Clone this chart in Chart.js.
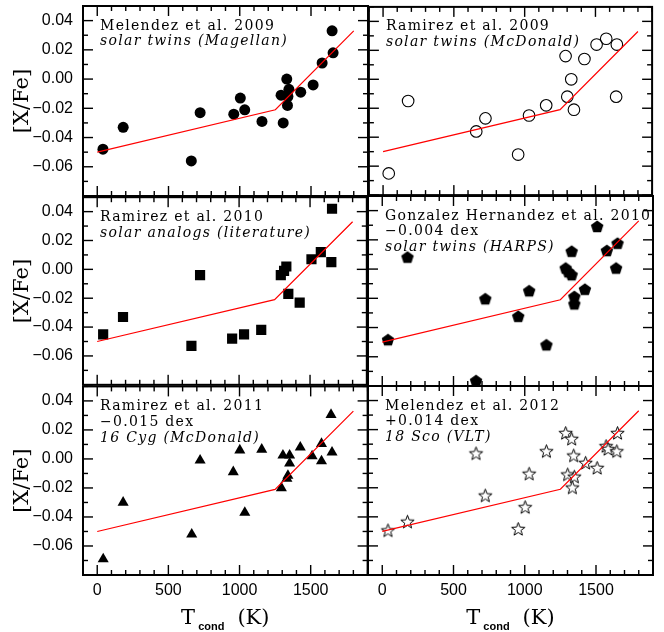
<!DOCTYPE html>
<html>
<head>
<meta charset="utf-8">
<script src="https://cdn.jsdelivr.net/npm/chart.js@4/dist/chart.umd.min.js"></script>
<style>
html, body { margin: 0; padding: 0; background: #fff; }
body { width: 664px; height: 632px; position: relative; overflow: hidden; }
canvas { position: absolute; }
</style>
</head>
<body>
<script>
// broken-line fit, same in every panel
const fitT = [0, 1250, 1800]
const fitY = [-0.050, -0.021, 0.033]

// axis ranges and ticks
const xMin = -100, xMax = 1900, xMinorStep = 100, xMajorStep = 500
const yMin = -0.08, yMax = 0.05, yMinorStep = 0.01
const yLabelled = [-0.06, -0.04, -0.02, 0.00, 0.02, 0.04]

// Melendez et al. 2009 (filled circles)
const mel09T = [40, 182, 660, 722, 958, 1004, 1035, 1156, 1290, 1305, 1330, 1345, 1335, 1338, 1428, 1515, 1578, 1648, 1655]
const mel09Y = [-0.048, -0.033, -0.056, -0.023, -0.024, -0.013, -0.021, -0.029, -0.011, -0.030, 0.000, -0.007, -0.018, -0.012, -0.009, -0.004, 0.011, 0.033, 0.018]

// Ramirez et al. 2009 (open circles)
const ram09T = [40, 177, 658, 723, 954, 1031, 1152, 1289, 1301, 1329, 1348, 1422, 1508, 1576, 1651, 1646]
const ram09Y = [-0.065, -0.015, -0.036, -0.027, -0.052, -0.025, -0.018, 0.016, -0.012, 0.000, -0.021, 0.014, 0.024, 0.028, 0.024, -0.012]

// Ramirez et al. 2010 (squares)
const ram10T = [42, 182, 664, 725, 951, 1035, 1156, 1294, 1317, 1333, 1347, 1427, 1510, 1576, 1650, 1655]
const ram10Y = [-0.045, -0.033, -0.053, -0.004, -0.048, -0.045, -0.042, -0.004, -0.001, 0.002, -0.017, -0.023, 0.007, 0.012, 0.005, 0.042]

// Gonzalez Hernandez et al. 2010 (pentagons)
const gh10T = [40, 177, 658, 723, 954, 1031, 1152, 1287, 1306, 1329, 1329, 1348, 1348, 1422, 1508, 1576, 1651, 1641]
const gh10Y = [-0.048, 0.0085, -0.076, -0.020, -0.032, -0.0145, -0.0515, 0.001, -0.0015, -0.0035, 0.0125, -0.0185, -0.0235, -0.0135, 0.0295, 0.013, 0.018, 0.001]

// Ramirez et al. 2011 (triangles)
const ram11T = [42, 182, 664, 723, 956, 1002, 1037, 1156, 1294, 1305, 1333, 1340, 1352, 1352, 1427, 1510, 1576, 1576, 1643, 1650]
const ram11Y = [-0.069, -0.030, -0.052, -0.001, -0.009, 0.006, -0.037, 0.0065, -0.020, 0.0025, -0.0135, -0.0115, 0.0025, -0.003, 0.008, 0.002, 0.0105, -0.0015, 0.0305, 0.0045]

// Melendez et al. 2012 (open stars)
const mel12T = [40, 177, 658, 723, 954, 1003, 1031, 1152, 1287, 1329, 1301, 1343, 1348, 1334, 1427, 1508, 1571, 1585, 1651, 1646]
const mel12Y = [-0.049, -0.043, 0.004, -0.025, -0.048, -0.033, -0.010, 0.0055, 0.018, 0.014, -0.0105, 0.0025, -0.012, -0.0195, -0.0025, -0.006, 0.009, 0.007, 0.018, 0.0055]


function pentagonImg(r) {
    const c = document.createElement('canvas')
    const s = Math.ceil(r * 2 + 2)
    c.width = c.height = s
    const g = c.getContext('2d')
    g.beginPath()
    for (let i = 0; i < 5; i++) {
        const ang = -Math.PI / 2 + i * 2 * Math.PI / 5
        g.lineTo(s / 2 + r * Math.cos(ang), s / 2 + 1 + r * Math.sin(ang))
    }
    g.closePath()
    g.fillStyle = '#000'
    g.fill()
    return c
}

function starImg(r) {
    const c = document.createElement('canvas')
    const s = Math.ceil(r * 2 + 3)
    c.width = c.height = s
    const g = c.getContext('2d')
    g.beginPath()
    for (let i = 0; i < 10; i++) {
        const ang = -Math.PI / 2 + i * Math.PI / 5
        const rr = i % 2 === 0 ? r : r * 0.42
        g.lineTo(s / 2 + rr * Math.cos(ang), s / 2 + 1 + rr * Math.sin(ang))
    }
    g.closePath()
    g.fillStyle = '#fff'
    g.fill()
    g.strokeStyle = '#000'
    g.lineWidth = 1
    g.stroke()
    return c
}

const pts = (T, Y) => T.map((t, i) => ({ x: t, y: Y[i] }))

const panels = [
    { col: 0, row: 0, T: mel09T, Y: mel09Y,
      marker: { pointStyle: 'circle', pointRadius: 5.5, backgroundColor: '#000', borderWidth: 0 },
      lines: ['Melendez et al. 2009', 'solar twins (Magellan)'], italic: [1] },
    { col: 1, row: 0, T: ram09T, Y: ram09Y,
      marker: { pointStyle: 'circle', pointRadius: 5.8, backgroundColor: 'rgba(0,0,0,0)', borderColor: '#000', borderWidth: 1.1 },
      lines: ['Ramirez et al. 2009', 'solar twins (McDonald)'], italic: [1] },
    { col: 0, row: 1, T: ram10T, Y: ram10Y,
      marker: { pointStyle: 'rect', pointRadius: 7.2, backgroundColor: '#000', borderWidth: 0 },
      lines: ['Ramirez et al. 2010', 'solar analogs (literature)'], italic: [1] },
    { col: 1, row: 1, T: gh10T, Y: gh10Y,
      marker: { pointStyle: pentagonImg(6.6) },
      lines: ['Gonzalez Hernandez et al. 2010', '\u22120.004 dex', 'solar twins (HARPS)'], italic: [2] },
    { col: 0, row: 2, T: ram11T, Y: ram11Y,
      marker: { pointStyle: 'triangle', pointRadius: 6.4, backgroundColor: '#000', borderWidth: 0 },
      lines: ['Ramirez et al. 2011', '\u22120.015 dex', '16 Cyg (McDonald)'], italic: [2] },
    { col: 1, row: 2, T: mel12T, Y: mel12Y,
      marker: { pointStyle: starImg(7) },
      lines: ['Melendez et al. 2012', '+0.014 dex', '18 Sco (VLT)'], italic: [2] },
]

// captions and the T_cond (K) title
const panelText = {
    id: 'panelText',
    afterDraw(chart, args, opts) {
        const { ctx, chartArea: area } = chart
        ctx.save()
        ctx.fillStyle = '#000'
        ctx.textAlign = 'left'
        ctx.textBaseline = 'alphabetic'
        ctx.letterSpacing = '1.3px'
        opts.lines.forEach((s, i) => {
            ctx.font = (opts.italic.includes(i) ? 'italic ' : '') + '14px "DejaVu Serif"'
            ctx.fillText(s, area.left + 17, area.top + 23.5 + i * 15.8)
        })
        ctx.letterSpacing = '0px'
        if (opts.xTitle) {
            const big = '21px "DejaVu Serif"', small = 'bold 11px "Liberation Sans"'
            ctx.font = big
            const wT = ctx.measureText('T').width
            const wK = ctx.measureText('(K)').width
            ctx.font = small
            const wc = ctx.measureText('cond').width
            const total = wT + 3 + wc + 13 + wK
            const x0 = (area.left + area.right) / 2 - total / 2
            const base = area.bottom + 49
            ctx.font = big
            ctx.fillText('T', x0, base)
            ctx.font = small
            ctx.fillText('cond', x0 + wT + 3, base + 6)
            ctx.font = big
            ctx.fillText('(K)', x0 + wT + 3 + wc + 13, base)
        }
        ctx.restore()
    }
}

function yTickLabel(v) {
    const k = Math.round(v * 100)
    if (!yLabelled.some(l => Math.round(l * 100) === k)) return ''
    if (k === 0) return '0.00'
    return (k < 0 ? '\u2212' : '') + Math.abs(k / 100).toFixed(2)
}

const made = []

panels.forEach(p => {
    const cLeft = p.col === 0 ? 0 : 362
    const cTop = p.row * 190
    const w = p.col === 0 ? 374 : 297
    const h = p.row === 2 ? 632 - 380 : 202
    const cv = document.createElement('canvas')
    cv.width = w
    cv.height = h
    cv.style.left = cLeft + 'px'
    cv.style.top = cTop + 'px'
    cv.style.width = w + 'px'
    cv.style.height = h + 'px'
    document.body.appendChild(cv)

    const showX = p.row === 2, showY = p.col === 0

    const chart = new Chart(cv, {
        type: 'scatter',
        data: {
            datasets: [
                {
                    type: 'line',
                    data: pts(fitT, fitY),
                    borderColor: '#ff0000',
                    borderWidth: 1.2,
                    pointRadius: 0,
                    fill: false,
                    tension: 0,
                },
                Object.assign({ data: pts(p.T, p.Y) }, p.marker),
            ]
        },
        options: {
            responsive: false,
            maintainAspectRatio: false,
            animation: false,
            events: [],
            layout: {
                padding: { left: p.col === 0 ? 0 : 6, right: 6, top: 6, bottom: showX ? 0 : 6 }
            },
            plugins: {
                legend: { display: false },
                tooltip: { enabled: false },
                panelText: { lines: p.lines, italic: p.italic, xTitle: showX },
            },
            scales: {
                x: {
                    type: 'linear',
                    min: xMin,
                    max: xMax,
                    display: showX,
                    grid: { display: false, drawTicks: false },
                    border: { display: false },
                    ticks: {
                        stepSize: xMinorStep,
                        autoSkip: false,
                        maxRotation: 0,
                        padding: 6,
                        color: '#000',
                        font: { family: 'Liberation Sans', size: 16 },
                        callback: v => (v % xMajorStep === 0 && v >= 0 && v < xMax) ? String(v) : '',
                    },
                    afterFit: s => {
                        s.paddingLeft = 0
                        s.paddingRight = 0
                        if (showX) s.height = 57
                    },
                },
                y: {
                    type: 'linear',
                    min: yMin,
                    max: yMax,
                    display: showY,
                    grid: { display: false, drawTicks: false },
                    border: { display: false },
                    ticks: {
                        stepSize: yMinorStep,
                        autoSkip: false,
                        padding: 10,
                        color: '#000',
                        font: { family: 'Liberation Sans', size: 16 },
                        callback: yTickLabel,
                    },
                    title: {
                        display: true,
                        text: '[X/Fe]',
                        color: '#000',
                        font: { family: 'DejaVu Serif', size: 21 },
                        padding: { top: 10, bottom: 0 },
                    },
                    afterFit: s => {
                        s.paddingTop = 0
                        s.paddingBottom = 0
                        if (showY) s.width = 83
                    },
                },
            },
        },
        plugins: [panelText],
    })
    made.push({ chart, dx: cLeft, dy: cTop })
})

// frames and inward ticks on a top layer, placed with each chart's own scales
const overlay = document.createElement('canvas')
overlay.width = 664
overlay.height = 632
overlay.style.left = '0px'
overlay.style.top = '0px'
overlay.style.width = '664px'
overlay.style.height = '632px'
document.body.appendChild(overlay)
const g = overlay.getContext('2d')
g.fillStyle = '#000'
g.strokeStyle = '#000'
const tw = 1.4
made.forEach(({ chart, dx, dy }) => {
    const area = chart.chartArea
    const sx = chart.scales.x, sy = chart.scales.y
    const L = area.left + dx, R = area.right + dx, T = area.top + dy, B = area.bottom + dy
    for (let t = xMin; t <= xMax; t += xMinorStep) {
        const x = sx.getPixelForValue(t) + dx
        const len = t % xMajorStep === 0 ? 10 : 5
        g.fillRect(x - tw / 2, B - len, tw, len)
        g.fillRect(x - tw / 2, T, tw, len)
    }
    const kMin = Math.round(yMin / yMinorStep), kMax = Math.round(yMax / yMinorStep)
    for (let k = kMin; k <= kMax; k++) {
        const y = sy.getPixelForValue(k * yMinorStep) + dy
        const len = k % 2 === 0 ? 10 : 5
        g.fillRect(L, y - tw / 2, len, tw)
        g.fillRect(R - len, y - tw / 2, len, tw)
    }
    g.lineWidth = 2
    g.strokeRect(L, T, R - L, B - T)
})
</script>
</body>
</html>
